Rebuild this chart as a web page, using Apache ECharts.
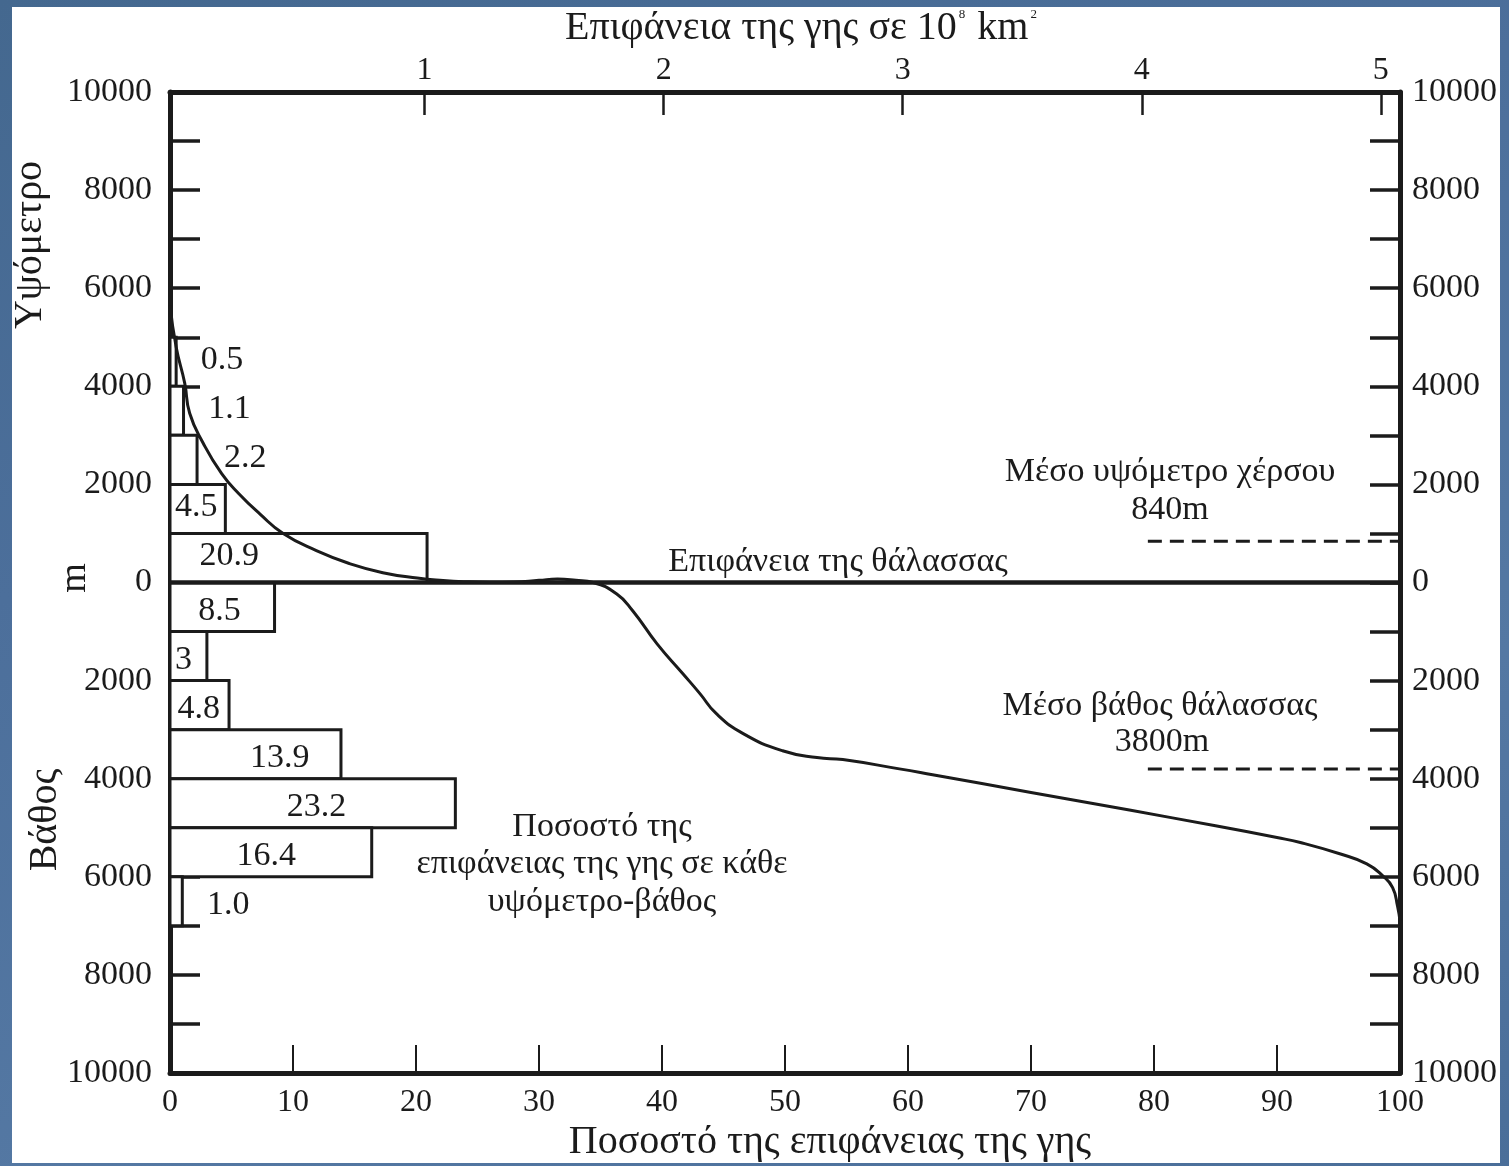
<!DOCTYPE html>
<html>
<head>
<meta charset="utf-8">
<script src="https://cdn.jsdelivr.net/npm/echarts@6/dist/echarts.min.js"></script>
<style>
html, body { margin: 0; padding: 0; width: 1509px; height: 1166px; overflow: hidden;
  background: linear-gradient(160deg, #44688f 0%, #4c6f9b 35%, #5478a3 70%, #4a6e99 100%); }
#frame { position: absolute; left: 12px; top: 7px; width: 1488px; height: 1156px; background: #ffffff; }
#chart { width: 1488px; height: 1156px; }
</style>
</head>
<body>
<div id="frame"><div id="chart"></div></div>
<script>
// ---------------- DATA ----------------
// Elevation bands (m, negative = depth) and % of Earth's surface in each band
const bandTop    = [5000, 4000, 3000, 2000, 1000,     0, -1000, -2000, -3000, -4000, -5000, -6000];
const bandBottom = [4000, 3000, 2000, 1000,    0, -1000, -2000, -3000, -4000, -5000, -6000, -7000];
const bandPct    = [0.5, 1.1, 2.2, 4.5, 20.9, 8.5, 3, 4.8, 13.9, 23.2, 16.4, 1.0];
const bandLabel  = ['0.5', '1.1', '2.2', '4.5', '20.9', '8.5', '3', '4.8', '13.9', '23.2', '16.4', '1.0'];

// Hypsometric curve: cumulative % of surface vs elevation (m)
const curvePct  = [0, 0.5, 1.2, 1.6, 2.7, 4.2, 5.6, 7.3, 9.2, 11.9, 14.6, 17.3, 20.1, 22.2, 24, 26, 28, 30, 31.5, 33, 34.4,
                   36.3, 37.6, 39.6, 41.7, 43.1, 44.4, 46.6, 49.8, 52.6, 54.7, 59.3, 62, 70, 78, 85, 90, 91.9, 95.1, 97.3,
                   98.6, 99.4, 99.8, 100];
const curveElev = [5650, 4800, 4060, 3450, 2840, 2220, 1810, 1400, 1000, 650, 385, 200, 90, 40, 15, 5, 10, 45, 70, 45, 0,
                   -230, -570, -1250, -1860, -2270, -2670, -3080, -3430, -3570, -3610, -3800, -3920, -4280, -4640, -4960, -5200, -5300, -5530, -5735,
                   -5980, -6220, -6600, -6900];

const meanLandElev = 840;
const meanSeaDepth = -3800;
const meanLineFromPct = 79.5;

// Tick labels
const yTickValues = [-10000, -8000, -6000, -4000, -2000, 0, 2000, 4000, 6000, 8000, 10000];
const xTickValues = [0, 10, 20, 30, 40, 50, 60, 70, 80, 90, 100];
const topTickValues = [1, 2, 3, 4, 5];   // 10^8 km^2

// ---------------- LAYOUT / STYLE ----------------
const FONT = '"Liberation Serif", "DejaVu Serif", serif';
const INK = '#1b1b1b';
const labelAnchorPct = [2.5, 3.1, 4.4, 0.4, 2.4, 2.3, 0.4, 0.6, 6.5, 9.5, 5.4, 3.0];
const topAxisMin = -0.065, topAxisMax = 5.08;

const chart = echarts.init(document.getElementById('chart'), null, { renderer: 'canvas' });

const yAxisCommon = {
  type: 'value', min: -10000, max: 10000, interval: 1000,
  splitLine: { show: false },
  axisLine: { show: true, onZero: false, lineStyle: { color: INK, width: 5 } },
  axisTick: { show: true, inside: true, length: 30, lineStyle: { color: INK, width: 3.5 } },
  axisLabel: {
    color: INK, fontFamily: FONT, fontSize: 34,
    formatter: v => (yTickValues.indexOf(v) >= 0 ? String(Math.abs(v)) : '')
  }
};

const txt = (x, y, text, size, rot) => ({
  type: 'text', x: x, y: y, rotation: rot || 0,
  style: { text: text, fontFamily: FONT, fontSize: size, fill: INK, align: 'center', verticalAlign: 'middle' }
});

const option = {
  animation: false,
  backgroundColor: '#ffffff',
  grid: { left: 158, top: 85, width: 1230, height: 981, containLabel: false },
  xAxis: [
    {
      type: 'value', min: 0, max: 100, interval: 10, position: 'bottom',
      splitLine: { show: false },
      axisLine: { show: true, onZero: false, lineStyle: { color: INK, width: 5 } },
      axisTick: { show: true, inside: true, length: 28, lineStyle: { color: INK, width: 2 } },
      axisLabel: { color: INK, fontFamily: FONT, fontSize: 32, margin: 14,
                   formatter: v => (xTickValues.indexOf(v) >= 0 ? String(v) : '') }
    },
    {
      type: 'value', min: topAxisMin, max: topAxisMax, position: 'top',
      splitLine: { show: false },
      axisLine: { show: true, onZero: false, lineStyle: { color: INK, width: 5 } },
      axisTick: { show: true, inside: true, length: 23, customValues: topTickValues, lineStyle: { color: INK, width: 2.5 } },
      axisLabel: { color: INK, fontFamily: FONT, fontSize: 32, margin: 5, customValues: topTickValues }
    }
  ],
  yAxis: [
    Object.assign({}, yAxisCommon, { position: 'left', axisLabel: Object.assign({}, yAxisCommon.axisLabel, { margin: 18 }) }),
    Object.assign({}, yAxisCommon, { position: 'right', axisLabel: Object.assign({}, yAxisCommon.axisLabel, { margin: 12 }) })
  ],
  series: [
    {
      type: 'custom', name: 'bands', xAxisIndex: 0, yAxisIndex: 0, z: 2,
      data: bandPct.map((p, i) => [p, bandTop[i], bandBottom[i], i]),
      encode: { x: 0, y: [1, 2] },
      renderItem: function (params, api) {
        const p = api.value(0), t = api.value(1), b = api.value(2), i = api.value(3);
        const tl = api.coord([0, t]);
        const br = api.coord([p, b]);
        const anchor = api.coord([labelAnchorPct[i], (t + b) / 2]);
        const dy = t > 0 ? -2 : 4;
        return {
          type: 'group',
          children: [
            { type: 'rect', shape: { x: tl[0], y: tl[1], width: br[0] - tl[0], height: br[1] - tl[1] },
              style: { fill: '#ffffff', stroke: INK, lineWidth: 3 } },
            { type: 'text', x: anchor[0], y: anchor[1] + dy,
              style: { text: bandLabel[i], fontFamily: FONT, fontSize: 34, fill: INK, align: 'left', verticalAlign: 'middle' } }
          ]
        };
      }
    },
    {
      type: 'line', name: 'sea level', xAxisIndex: 0, yAxisIndex: 0, z: 4,
      data: [[0, 0], [100, 0]], showSymbol: false, symbol: 'none', silent: true,
      lineStyle: { color: INK, width: 4.5 }
    },
    {
      type: 'line', name: 'hypsometric', xAxisIndex: 0, yAxisIndex: 0, z: 5,
      data: curvePct.map((p, i) => [p, curveElev[i]]),
      smooth: 0.5, showSymbol: false, symbol: 'none',
      lineStyle: { color: INK, width: 3 }
    },
    {
      type: 'line', name: 'mean land', xAxisIndex: 0, yAxisIndex: 0, z: 4,
      data: [[meanLineFromPct, meanLandElev], [100, meanLandElev]], showSymbol: false, symbol: 'none',
      lineStyle: { color: INK, width: 3, type: [14, 8] }
    },
    {
      type: 'line', name: 'mean sea', xAxisIndex: 0, yAxisIndex: 0, z: 4,
      data: [[meanLineFromPct, meanSeaDepth], [100, meanSeaDepth]], showSymbol: false, symbol: 'none',
      lineStyle: { color: INK, width: 3, type: [14, 8] }
    }
  ],
  graphic: [
    {
      type: 'text', x: 790, y: 21,
      style: {
        text: 'Επιφάνεια της γης σε 10{s|8} km{s|2}', fontFamily: FONT, fontSize: 40, fill: INK,
        align: 'center', verticalAlign: 'middle',
        rich: { s: { fontFamily: FONT, fontSize: 13, fill: INK, verticalAlign: 'top', padding: [0, 2, 18, 2] } }
      }
    },
    txt(818, 1135, 'Ποσοστό της επιφάνειας της γης', 40),
    txt(18, 238, 'Υψόμετρο', 40, Math.PI / 2),
    txt(63, 571, 'm', 38, Math.PI / 2),
    txt(33, 813, 'Βάθος', 40, Math.PI / 2),
    txt(826, 555, 'Επιφάνεια της θάλασσας', 34),
    txt(1158, 465, 'Μέσο υψόμετρο χέρσου', 34),
    txt(1158, 503, '840m', 34),
    txt(1148, 699, 'Μέσο βάθος θάλασσας', 34),
    txt(1150, 735, '3800m', 34),
    txt(590, 820, 'Ποσοστό της', 34),
    txt(590, 857, 'επιφάνειας της γης σε κάθε', 34),
    txt(590, 895, 'υψόμετρο-βάθος', 34)
  ]
};

chart.setOption(option);
</script>
</body>
</html>
